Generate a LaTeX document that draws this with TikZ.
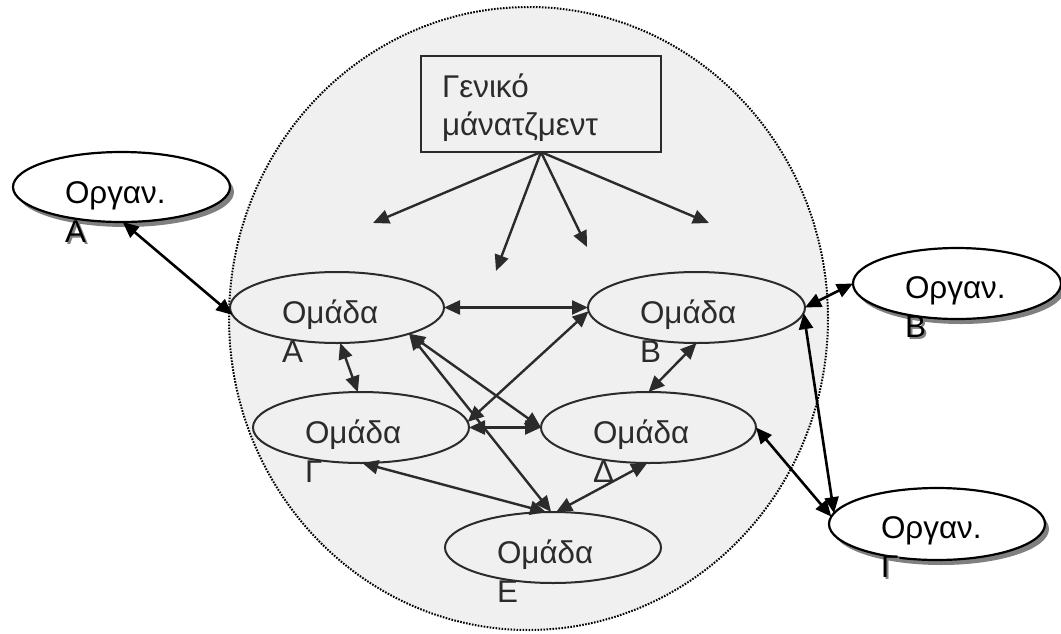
\documentclass[tikz,border=0pt]{standalone}
\usepackage{fontspec}
\setmainfont{Liberation Sans}
\usetikzlibrary{arrows.meta,shapes.geometric,shadows}
\definecolor{ink}{HTML}{2B2B2B}
\definecolor{bg}{HTML}{F0F0F0}
\definecolor{shade}{HTML}{808080}
\begin{document}
\begin{tikzpicture}[x=0.5pt,y=-0.5pt,
  every node/.style={inner sep=0pt,outer sep=0pt},
  txt/.style={anchor=base west,font=\fontsize{15.7}{19}\selectfont},
  gtxt/.style={txt,text=ink},
  otxt/.style={txt,text=black},
  stxt/.style={txt,text=shade},
  grp/.style={ellipse,draw=ink,line width=1pt},
  orgel/.style={ellipse,draw=black,fill=white,line width=1.1pt,
    drop shadow={shadow xshift=2pt,shadow yshift=-2.5pt,fill=shade,opacity=1}},
  link/.style={draw=ink,line width=1.2pt,-{Triangle[length=8pt,width=7pt]}},
  dlink/.style={draw=ink,line width=1.2pt,{Triangle[length=8pt,width=7pt]}-{Triangle[length=8pt,width=7pt]}},
  olink/.style={draw=black,line width=1.3pt,{Triangle[length=8pt,width=7pt]}-{Triangle[length=8pt,width=7pt]}}
]
\useasboundingbox (0,0) rectangle (1061,633);
% organisation boundary
\node[ellipse,fill=bg,draw=black,line width=1pt,dash pattern=on 0.8pt off 0.7pt,
  minimum width=299.5pt,minimum height=311.5pt] (big) at (528.5,318.5) {};
% general management
\node[draw=ink,line width=1.3pt,minimum width=120pt,minimum height=48pt] (gm) at (541,104) {};
\node[gtxt] (gm1) at (442,97) {Γενικό};
\node[gtxt] (gm2) at (442,135) {μάνατζμεντ};
% groups
\node[grp,minimum width=107pt,minimum height=35.5pt] (gA) at (337,307.5) {};
\node[grp,minimum width=108.5pt,minimum height=35.5pt] (gB) at (696.5,307.5) {};
\node[grp,minimum width=108pt,minimum height=35.5pt] (gC) at (361,427.5) {};
\node[grp,minimum width=107.5pt,minimum height=35.5pt] (gD) at (648.5,427.5) {};
\node[grp,minimum width=108pt,minimum height=35.5pt] (gE) at (553,547.5) {};
\node[gtxt] (gA1) at (282,323) {Ομάδα};
\node[gtxt] (gA2) at (282,362) {Α};
\node[gtxt] (gB1) at (640,323) {Ομάδα};
\node[gtxt] (gB2) at (640,362) {Β};
\node[gtxt] (gC1) at (305,443) {Ομάδα};
\node[gtxt] (gC2) at (305,482) {Γ};
\node[gtxt] (gD1) at (593,443) {Ομάδα};
\node[gtxt] (gD2) at (593,482) {Δ};
\node[gtxt] (gE1) at (497,563) {Ομάδα};
\node[gtxt] (gE2) at (497,602) {Ε};
% outside organisations
\node[orgel,minimum width=108.5pt,minimum height=35pt] (oA) at (121.5,187) {};
\node[orgel,minimum width=104pt,minimum height=35.5pt] (oB) at (957,283.5) {};
\node[orgel,minimum width=108pt,minimum height=36pt] (oC) at (937,524) {};
\node[otxt] (oA1) at (65,203) {Οργαν.};
\node[stxt] (oA2s) at (67,244) {Α};
\node[otxt] (oA2) at (65,242) {Α};
\node[otxt] (oB1) at (905,298) {Οργαν.};
\node[stxt] (oB2s) at (907,339) {Β};
\node[otxt] (oB2) at (905,337) {Β};
\node[otxt] (oC1) at (881,538) {Οργαν.};
\node[stxt] (oC2s) at (883,579) {Γ};
\node[otxt] (oC2) at (881,577) {Γ};
% free ends of management arrows
\coordinate (t1) at (373,223);
\coordinate (t2) at (496,271);
\coordinate (t3) at (587,247);
\coordinate (t4) at (709,223);
\draw[link] (gm.south) -- (t1);
\draw[link] (gm.south) -- (t2);
\draw[link] (gm.south) -- (t3);
\draw[link] (gm.south) -- (t4);
% internal links
\draw[dlink] (gA.east) -- (gB.west);
\draw[dlink] (gA.-85) -- (gC.95);
\draw[dlink] (gB.south) -- (gD.north);
\draw[dlink] (gA.-20) -- (gD.west);
\draw[dlink] (gA.-20) -- (gE.93);
\draw[dlink] (gC.3) -- (gB.182);
\draw[dlink] (gC.east) -- (gD.west);
\draw[dlink] (gC.-88) -- (gE.101);
\draw[dlink] (gD.-92) -- (gE.85);
% external links
\draw[olink] (oA.-88) -- (gA.184);
\draw[olink] (oB.west) -- (gB.east);
\draw[olink] (gD.east) -- (oC.176);
\draw[olink] (gB.-3) -- (oC.174);
\end{tikzpicture}
\end{document}
